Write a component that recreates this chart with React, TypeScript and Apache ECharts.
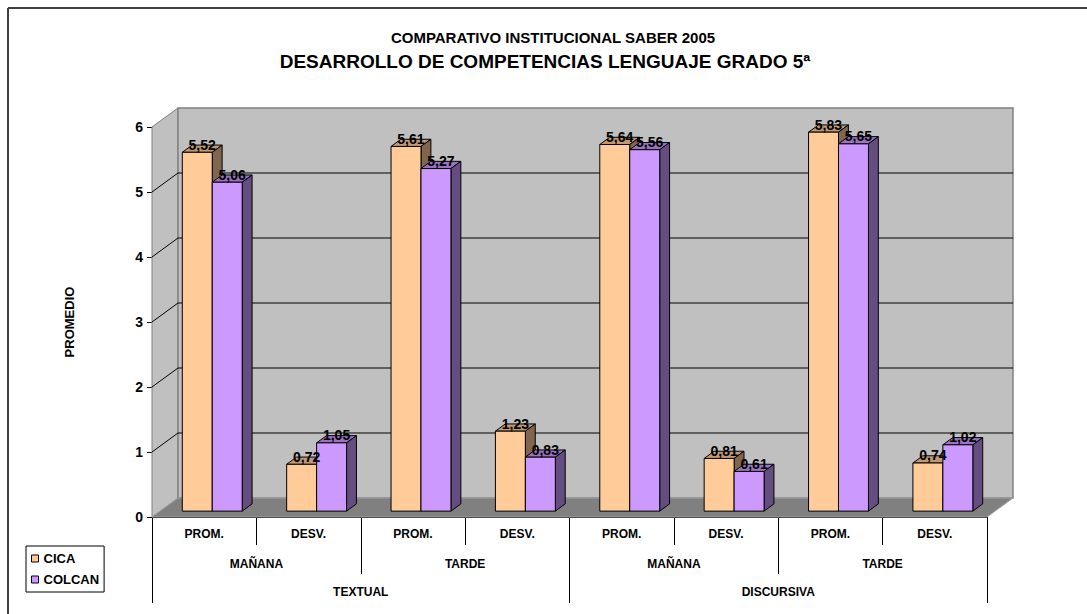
import React, { useEffect, useRef } from 'react';
import * as echarts from 'echarts';

// ---------- data ----------
const subCategories = ['PROM.', 'DESV.', 'PROM.', 'DESV.', 'PROM.', 'DESV.', 'PROM.', 'DESV.'];
const shiftCategories = ['MAÑANA', 'TARDE', 'MAÑANA', 'TARDE'];
const typeCategories = ['TEXTUAL', 'DISCURSIVA'];
const seriesNames = ['CICA', 'COLCAN'];
const cicaValues = [5.52, 0.72, 5.61, 1.23, 5.64, 0.81, 5.83, 0.74];
const colcanValues = [5.06, 1.05, 5.27, 0.83, 5.56, 0.61, 5.65, 1.02];
const yTicks = [0, 1, 2, 3, 4, 5, 6];
const titleMain = 'COMPARATIVO INSTITUCIONAL SABER 2005';
const titleSub = 'DESARROLLO DE COMPETENCIAS LENGUAJE GRADO 5ª';
const yAxisName = 'PROMEDIO';

// ---------- style ----------
const FONT = 'Arial, "Liberation Sans", "Noto Sans", sans-serif';
const DEPTH_X = 26;
const DEPTH_Y = -19;
const BAR_D0 = 0.31;
const BAR_DD = 0.38;
const BAR_W_FRAC = 0.287;
const COLORS = [
  { front: '#FFCC99', top: '#BF9973', side: '#80664D' },
  { front: '#CC99FF', top: '#9973BF', side: '#664D80' },
];

const fmt = (v: number) => v.toFixed(2).replace('.', ',');

function barGeom(api: any, seriesIdx: number) {
  const i = api.value(0);
  const v = api.value(1);
  const pTop = api.coord([i, v]);
  const pBase = api.coord([i, 0]);
  const catW = api.size([1, 0])[0];
  const bw = catW * BAR_W_FRAC;
  const ox = BAR_D0 * DEPTH_X;
  const oy = BAR_D0 * DEPTH_Y;
  const dx = BAR_DD * DEPTH_X;
  const dy = BAR_DD * DEPTH_Y;
  const x0 = pTop[0] + (seriesIdx === 0 ? -bw : 0) + ox;
  const x1 = x0 + bw;
  const yt = pTop[1] + oy;
  const yb = pBase[1] + oy;
  return { v, x0, x1, yt, yb, dx, dy, bw };
}

const makeBarRender = (seriesIdx: number) => (params: any, api: any) => {
  const { x0, x1, yt, yb, dx, dy, bw } = barGeom(api, seriesIdx);
  const c = COLORS[seriesIdx];
  const stroke = { stroke: '#000', lineWidth: 1 };
  return {
    type: 'group',
    children: [
      {
        type: 'polygon',
        shape: { points: [[x0, yt], [x1, yt], [x1 + dx, yt + dy], [x0 + dx, yt + dy]] },
        style: { fill: c.top, ...stroke },
      },
      {
        type: 'polygon',
        shape: { points: [[x1, yt], [x1 + dx, yt + dy], [x1 + dx, yb + dy], [x1, yb]] },
        style: { fill: c.side, ...stroke },
      },
      {
        type: 'rect',
        shape: { x: x0, y: yt, width: bw, height: yb - yt },
        style: { fill: c.front, ...stroke },
      },
    ],
  };
};

const makeLabelRender = (seriesIdx: number) => (params: any, api: any) => {
  const { v, x0, yt, dx, dy, bw } = barGeom(api, seriesIdx);
  return {
    type: 'text',
    x: x0 + bw / 2 + dx / 2,
    y: yt + dy / 2 - 4,
    style: {
      text: fmt(v),
      fill: '#000',
      font: `bold 14px ${FONT}`,
      align: 'center',
      verticalAlign: 'middle',
      textAlign: 'center',
      textVerticalAlign: 'middle',
    },
  };
};

const renderBackground = (params: any, api: any) => {
  const cs = params.coordSys;
  const left = cs.x;
  const right = cs.x + cs.width;
  const yZero = api.coord([0, yTicks[0]])[1];
  const yMax = api.coord([0, yTicks[yTicks.length - 1]])[1];
  const children: any[] = [];
  children.push({
    type: 'polygon',
    shape: { points: [[left, yMax], [left + DEPTH_X, yMax + DEPTH_Y], [left + DEPTH_X, yZero + DEPTH_Y], [left, yZero]] },
    style: { fill: '#C0C0C0', stroke: '#808080', lineWidth: 1 },
  });
  children.push({
    type: 'rect',
    shape: { x: left + DEPTH_X, y: yMax + DEPTH_Y, width: right - left, height: yZero - yMax },
    style: { fill: '#C0C0C0', stroke: '#808080', lineWidth: 1.5 },
  });
  children.push({
    type: 'polygon',
    shape: { points: [[left, yZero], [left + DEPTH_X, yZero + DEPTH_Y], [right + DEPTH_X, yZero + DEPTH_Y], [right, yZero]] },
    style: { fill: '#808080', stroke: '#A0A0A0', lineWidth: 1 },
  });
  yTicks.slice(1, yTicks.length - 1).forEach((t) => {
    const y = api.coord([0, t])[1];
    children.push({
      type: 'line',
      shape: { x1: left + DEPTH_X, y1: y + DEPTH_Y, x2: right + DEPTH_X, y2: y + DEPTH_Y },
      style: { stroke: '#000', lineWidth: 1 },
    });
    children.push({
      type: 'line',
      shape: { x1: left, y1: y, x2: left + DEPTH_X, y2: y + DEPTH_Y },
      style: { stroke: '#000', lineWidth: 1 },
    });
  });
  return { type: 'group', children };
};

export default function App() {
  const ref = useRef<HTMLDivElement>(null);
  useEffect(() => {
    if (!ref.current) return;
    const chart = echarts.init(ref.current, null, { renderer: 'svg' });
    const axisFont = { fontFamily: FONT, fontWeight: 'bold' as const, color: '#000' };
    const seriesValues = [cicaValues, colcanValues];
    const option: any = {
      animation: false,
      backgroundColor: '#fff',
      title: [
        {
          text: titleMain,
          left: 553,
          textAlign: 'center',
          top: 30,
          padding: 0,
          textStyle: { ...axisFont, fontSize: 15 },
        },
        {
          text: titleSub,
          left: 545,
          textAlign: 'center',
          top: 52,
          padding: 0,
          textStyle: { ...axisFont, fontSize: 19 },
        },
      ],
      legend: {
        orient: 'vertical',
        left: 26,
        top: 546,
        padding: [6, 5],
        itemGap: 8,
        itemWidth: 7,
        itemHeight: 7,
        borderColor: '#000',
        borderWidth: 1,
        selectedMode: false,
        textStyle: { ...axisFont, fontSize: 13 },
        data: seriesNames.map((n, k) => ({
          name: n,
          icon: 'rect',
          itemStyle: { color: COLORS[k].front, borderColor: '#000', borderWidth: 1 },
        })),
      },
      grid: { left: 152, right: 100, top: 127, bottom: 97, containLabel: false },
      xAxis: [
        {
          type: 'category',
          data: subCategories,
          position: 'bottom',
          axisLine: { show: true, lineStyle: { color: '#000', width: 1 } },
          axisTick: { show: true, interval: 0, length: 28, lineStyle: { color: '#000' } },
          axisLabel: { ...axisFont, fontSize: 12, margin: 11, interval: 0 },
          splitLine: { show: false },
        },
        {
          type: 'category',
          data: shiftCategories,
          position: 'bottom',
          axisLine: { show: false },
          axisTick: { show: true, interval: 0, length: 57, lineStyle: { color: '#000' } },
          axisLabel: { ...axisFont, fontSize: 12, margin: 41, interval: 0 },
          splitLine: { show: false },
        },
        {
          type: 'category',
          data: typeCategories,
          position: 'bottom',
          axisLine: { show: false },
          axisTick: { show: true, interval: 0, length: 86, lineStyle: { color: '#000' } },
          axisLabel: { ...axisFont, fontSize: 12, margin: 69, interval: 0 },
          splitLine: { show: false },
        },
      ],
      yAxis: {
        type: 'value',
        min: yTicks[0],
        max: yTicks[yTicks.length - 1],
        interval: 1,
        name: yAxisName,
        nameLocation: 'middle',
        nameRotate: 90,
        nameGap: 76,
        nameTextStyle: { ...axisFont, fontSize: 13 },
        axisLine: { show: true, lineStyle: { color: '#000', width: 1 } },
        axisTick: { show: true, length: 5, lineStyle: { color: '#000' } },
        axisLabel: { ...axisFont, fontSize: 14, margin: 9 },
        splitLine: { show: false },
      },
      graphic: [
        { type: 'line', shape: { x1: 8, y1: 8, x2: 1087, y2: 8 }, style: { stroke: '#404040', lineWidth: 2 } },
        { type: 'line', shape: { x1: 8, y1: 8, x2: 8, y2: 614 }, style: { stroke: '#404040', lineWidth: 2 } },
      ],
      series: [
        {
          type: 'custom',
          name: '__bg',
          z: 1,
          silent: true,
          renderItem: renderBackground,
          data: [[0, 0]],
          encode: { x: 0, y: 1 },
        },
        ...seriesNames.map((n, k) => ({
          type: 'custom',
          name: n,
          z: 2,
          itemStyle: { color: COLORS[k].front },
          renderItem: makeBarRender(k),
          data: seriesValues[k].map((v, i) => [i, v]),
          encode: { x: 0, y: 1 },
        })),
        ...seriesNames.map((n, k) => ({
          type: 'custom',
          name: n,
          z: 5,
          itemStyle: { color: COLORS[k].front },
          renderItem: makeLabelRender(k),
          data: seriesValues[k].map((v, i) => [i, v]),
          encode: { x: 0, y: 1 },
        })),
      ],
    };
    chart.setOption(option);
    return () => chart.dispose();
  }, []);
  return (
    <div
      ref={ref}
      style={{ position: 'fixed', left: 0, top: 0, width: 1087, height: 614 }}
    />
  );
}
